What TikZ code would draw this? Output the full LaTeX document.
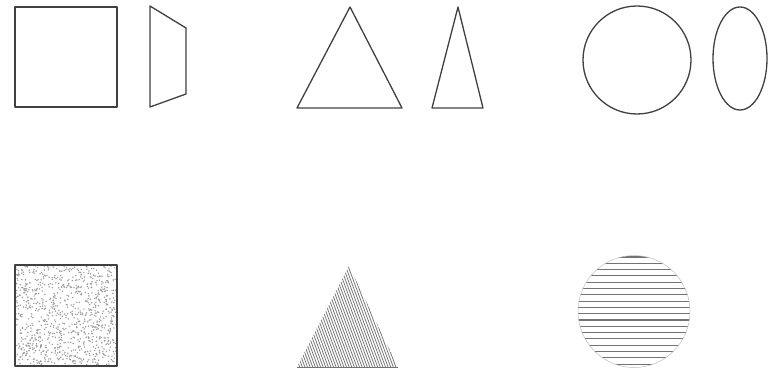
\documentclass[tikz,border=0pt]{standalone}
\usepackage{tikz}
\tikzset{
  outline/.style={draw=black!75, line width=1.3pt, line join=round},
  hatch/.style={draw=black!55, line width=0.75pt},
  stripe/.style={draw=black!55, line width=1.1pt},
  speck/.style={fill=black!40}
}
\begin{document}
\begin{tikzpicture}[x=1pt, y=-1pt]
\useasboundingbox (0,0) rectangle (778,371);
% upper row
\draw[outline] (15,7) rectangle (117,107);
\draw[outline] (150,6) -- (186,28) -- (186,94) -- (150,107) -- cycle;
\draw[outline] (350,7) -- (402,108) -- (297,108) -- cycle;
\draw[outline] (458,7) -- (483,108) -- (432,108) -- cycle;
\draw[outline] (637,60) circle[radius=54];
\draw[outline] (740,58.5) ellipse[x radius=27, y radius=51.5];
% lower row
\begin{scope}
  \clip (15,265) rectangle (117,366);
  \pgfmathsetseed{4711}
  \foreach \i in {1,...,950} {
    \fill[speck] ({15+102*rnd},{265+101*rnd}) circle[radius=0.8];
  }
\end{scope}
\draw[outline] (15,265) rectangle (117,366);
\begin{scope}
  \clip (349,266) -- (398,367) -- (297,367) -- cycle;
  \foreach \x in {240,242.6,...,410} {
    \draw[hatch] (\x,262) -- ({\x+40},370);
  }
\end{scope}
\draw[hatch] (297,367) -- (398,367);
\begin{scope}
  \clip (634,311.5) circle[radius=56];
  \foreach \y in {257,263.3,...,368} {
    \draw[stripe] (576,\y) -- (692,\y);
  }
\end{scope}
\draw[draw=black!25, line width=0.5pt] (634,311.5) circle[radius=56];
\end{tikzpicture}
\end{document}
